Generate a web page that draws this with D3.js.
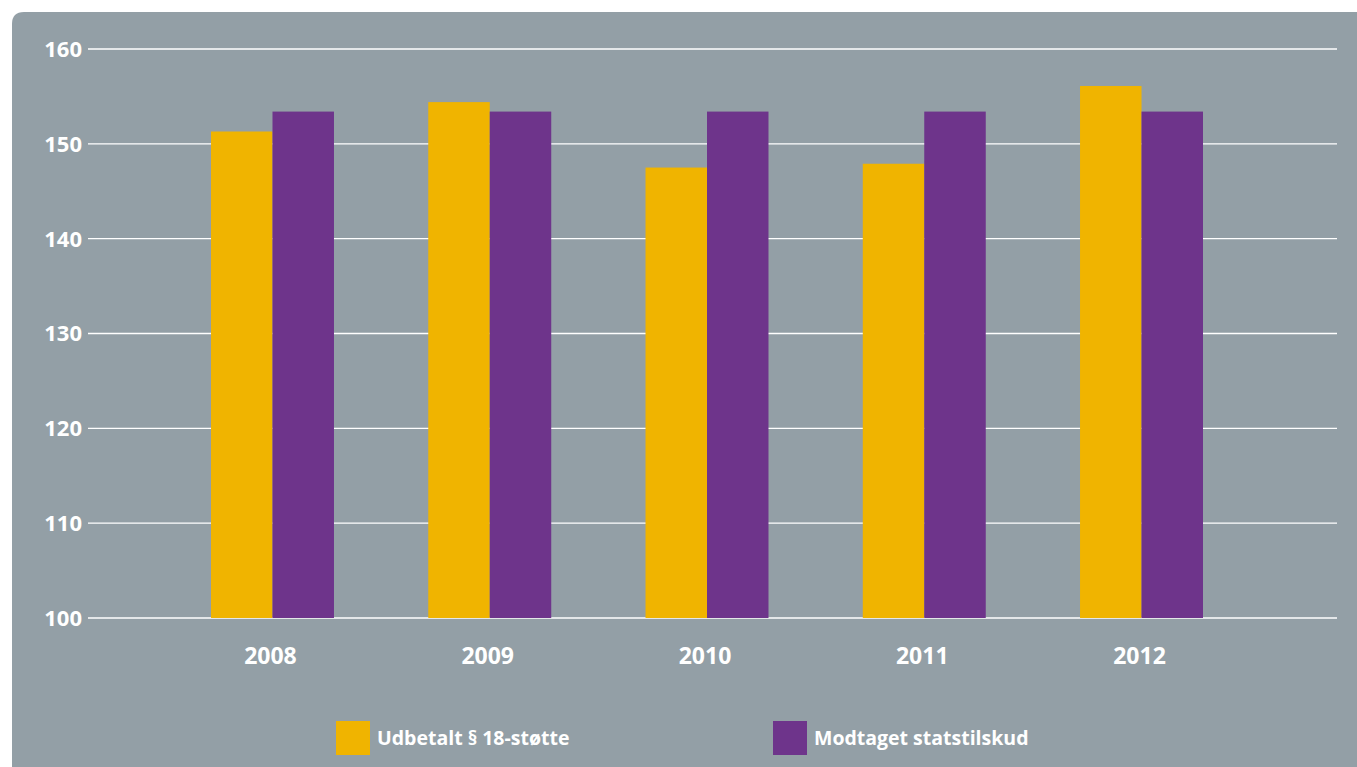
<!DOCTYPE html>
<meta charset="utf-8">
<style>
body { margin: 0; background: #fff; }
svg text { font-family: "Open Sans", sans-serif; font-weight: 700; fill: #fff; }
</style>
<svg width="1357" height="767"></svg>
<script src="https://d3js.org/d3.v7.min.js"></script>
<script>
// data
var years = ["2008", "2009", "2010", "2011", "2012"];
var udbetalt = [151.3, 154.4, 147.5, 147.9, 156.1];
var modtaget = [153.4, 153.4, 153.4, 153.4, 153.4];
var yTicks = [100, 110, 120, 130, 140, 150, 160];
var seriesNames = ["Udbetalt § 18-støtte", "Modtaget statstilskud"];
var colors = ["#f0b400", "#6e348b"];

var svg = d3.select("svg");

// grey panel with rounded top-left corner
svg.append("path")
  .attr("d", "M12,24 Q12,12 24,12 L1357,12 L1357,767 L12,767 Z")
  .attr("fill", "#939fa6");

var y = d3.scaleLinear().domain([100, 160]).range([618, 49]);
var x = d3.scaleBand().domain(years).range([211, 1203]).paddingInner(0.434).paddingOuter(0);
var xs = d3.scaleBand().domain([0, 1]).range([0, x.bandwidth()]);

// gridlines
svg.append("g").selectAll("line")
  .data(yTicks)
  .enter().append("line")
    .attr("x1", 88).attr("x2", 1337)
    .attr("y1", function(d) { return y(d); })
    .attr("y2", function(d) { return y(d); })
    .attr("stroke", "#fff")
    .attr("stroke-width", 1.3);

svg.append("g").selectAll("text")
  .data(yTicks)
  .enter().append("text")
    .attr("x", 82)
    .attr("y", function(d) { return y(d); })
    .attr("dy", "0.36em")
    .attr("text-anchor", "end")
    .attr("font-size", 22)
    .text(function(d) { return d; });

// bars
var groups = svg.append("g").selectAll("g")
  .data(years)
  .enter().append("g")
    .attr("transform", function(d) { return "translate(" + x(d) + ",0)"; });

groups.selectAll("rect")
  .data(function(d, i) { return [udbetalt[i], modtaget[i]]; })
  .enter().append("rect")
    .attr("x", function(d, j) { return xs(j); })
    .attr("width", xs.bandwidth())
    .attr("y", function(d) { return y(d); })
    .attr("height", function(d) { return y(100) - y(d); })
    .attr("fill", function(d, j) { return colors[j]; });

// year labels
svg.append("g").selectAll("text")
  .data(years)
  .enter().append("text")
    .attr("x", function(d) { return x(d) + x.bandwidth() / 2 - 2; })
    .attr("y", 664)
    .attr("text-anchor", "middle")
    .attr("font-size", 23)
    .text(function(d) { return d; });

// legend
var legendX = [336, 773];
var legend = svg.append("g").selectAll("g")
  .data(seriesNames)
  .enter().append("g")
    .attr("transform", function(d, i) { return "translate(" + legendX[i] + ",721)"; });
legend.append("rect")
  .attr("width", 34).attr("height", 34)
  .attr("fill", function(d, i) { return colors[i]; });
legend.append("text")
  .attr("x", 41).attr("y", 17).attr("dy", "0.36em")
  .attr("font-size", 19.5)
  .text(function(d) { return d; });
</script>
